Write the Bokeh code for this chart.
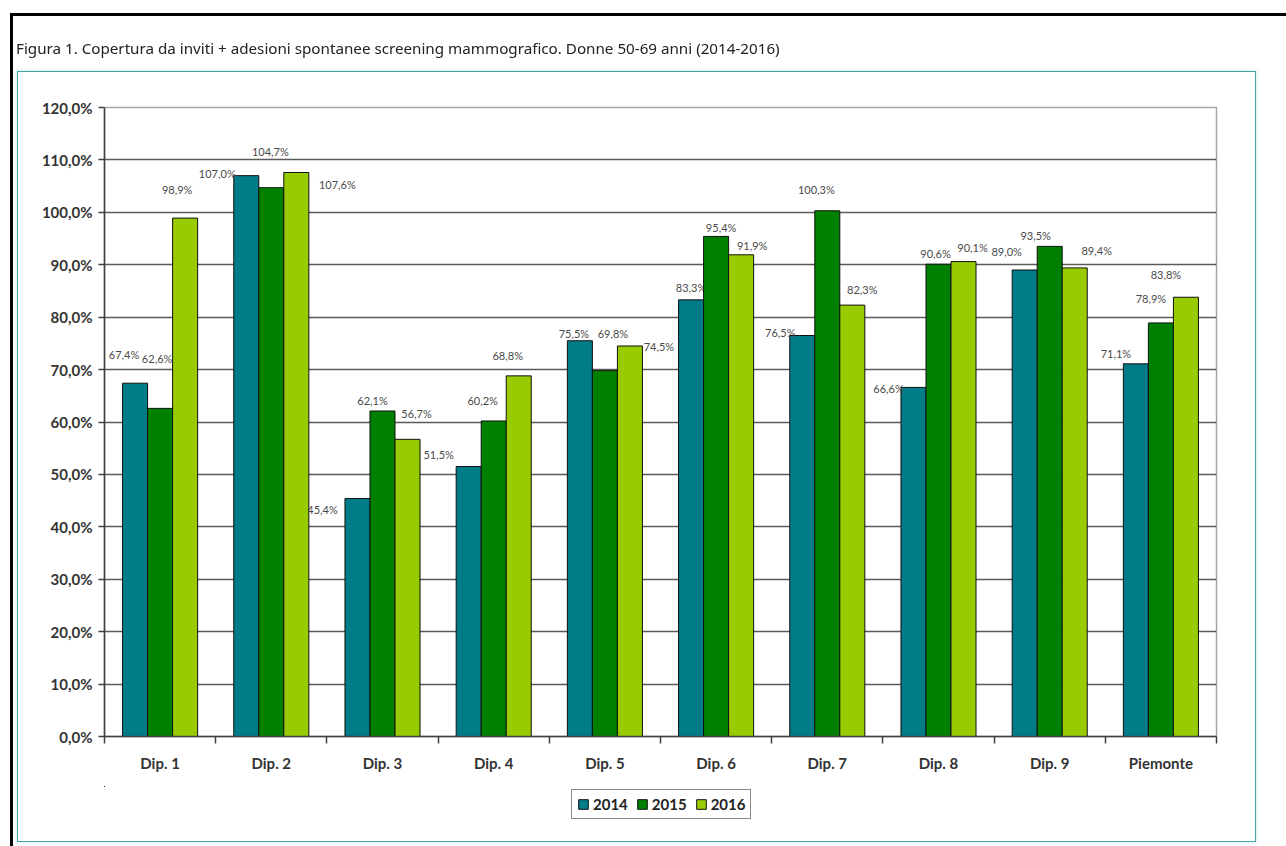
from bokeh.plotting import figure
from bokeh.models import (ColumnDataSource, Range1d, FixedTicker, Legend,
                          LegendItem, Div)
from bokeh.layouts import column
from bokeh.core.properties import value
from bokeh.embed import file_html
from bokeh.resources import INLINE

# ---------------- data ----------------
categories = ["Dip. 1", "Dip. 2", "Dip. 3", "Dip. 4", "Dip. 5",
              "Dip. 6", "Dip. 7", "Dip. 8", "Dip. 9", "Piemonte"]
years = ["2014", "2015", "2016"]
v2014 = [67.4, 107.0, 45.4, 51.5, 75.5, 83.3, 76.5, 66.6, 89.0, 71.1]
v2015 = [62.6, 104.7, 62.1, 60.2, 69.8, 95.4, 100.3, 90.1, 93.5, 78.9]
v2016 = [98.9, 107.6, 56.7, 68.8, 74.5, 91.9, 82.3, 90.6, 89.4, 83.8]
y_ticks = [0, 10, 20, 30, 40, 50, 60, 70, 80, 90, 100, 110, 120]
y_tick_labels = ["0,0%", "10,0%", "20,0%", "30,0%", "40,0%", "50,0%", "60,0%",
                 "70,0%", "80,0%", "90,0%", "100,0%", "110,0%", "120,0%"]
title_text = ("Figura 1. Copertura da inviti + adesioni spontanee screening "
              "mammografico. Donne 50-69 anni (2014-2016)")

# label placement (screen px, relative to bar top centre; dy positive = down)
lab_dx = {
    "2014": [-11, -29, -35, -30, -6, 0, -22, -25, -18, -20],
    "2015": [-3, -1, -10, -11, 8, 5, -11, 34, -14, -10],
    "2016": [-8, 41, 9, -11, 29, 11, 10, -28, 22, -20],
}
lab_dy = {
    "2014": [-29, -2, 11, -12, -7, -12, -3, 1, -18, -10],
    "2015": [-50, -36, -10, -20, -37, -9, -21, -17, -11, -24],
    "2016": [-29, 12, -26, -20, 1, -9, -16, -8, -17, -23],
}

colors = {"2014": "#007C89", "2015": "#008000", "2016": "#99CC00"}
series = {"2014": v2014, "2015": v2015, "2016": v2016}
bar_w = 0.225
shifts = {"2014": -bar_w, "2015": 0.0, "2016": bar_w}

p = figure(frame_width=1112, frame_height=629,
           output_backend="svg", toolbar_location=None,
           x_range=Range1d(0, len(categories)), y_range=Range1d(0, 120),
           min_border_left=104, min_border_right=70,
           min_border_top=107, min_border_bottom=50)
p.background_fill_color = "white"
p.border_fill_color = "white"
p.outline_line_color = "#a6a6a6"
p.outline_line_width = 1.5

# legend strip (separate small figure beneath the chart, frame aligned);
# its ranges keep the key renderers entirely outside its visible area
lf = figure(width=1286, height=60, output_backend="svg", toolbar_location=None,
            x_axis_location=None, y_axis_location=None, min_border=0,
            x_range=Range1d(1000, 1010), y_range=Range1d(-2000, -1000))
lf.outline_line_color = None
lf.grid.visible = False
lf.border_fill_color = "white"
lf.background_fill_color = "white"

centers = [i + 0.5 for i in range(len(categories))]
items = []
for yr in years:
    vals = series[yr]
    src = ColumnDataSource(dict(
        x=[c + shifts[yr] for c in centers],
        top=vals,
        lab=[f"{v:.1f}".replace(".", ",") + "%" for v in vals],
        dx=lab_dx[yr],
        dy=lab_dy[yr],
    ))
    p.vbar(x="x", top="top", bottom=0, width=bar_w, source=src,
           fill_color=colors[yr], line_color="#101010", line_width=1)
    p.text(x="x", y="top", text="lab", x_offset="dx", y_offset="dy", source=src,
           text_align="center", text_baseline="middle",
           text_font=value("Lato"), text_font_size="11px", text_color="#4a4a4a")
    lr = lf.vbar(x="x", top="top", bottom=0, width=bar_w, source=src,
                 fill_color=colors[yr], line_color="#101010", line_width=1)
    items.append(LegendItem(label=yr, renderers=[lr]))

# y axis
p.yaxis.ticker = FixedTicker(ticks=y_ticks)
p.yaxis.major_label_overrides = {t: l for t, l in zip(y_ticks, y_tick_labels)}
p.yaxis.major_label_text_font = "Lato"
p.yaxis.major_label_text_font_style = "bold"
p.yaxis.major_label_text_font_size = "15px"
p.yaxis.major_label_text_color = "#333333"
p.yaxis.axis_line_color = "#404040"
p.yaxis.axis_line_width = 1.5
p.yaxis.major_tick_line_color = "#404040"
p.yaxis.major_tick_line_width = 1.5
p.yaxis.major_tick_out = 6
p.yaxis.major_tick_in = 0
p.yaxis.minor_tick_line_color = None
p.yaxis.major_label_standoff = 6

# x axis: labels at centres, tick marks at boundaries
p.xaxis.ticker = FixedTicker(ticks=centers,
                             minor_ticks=list(range(len(categories) + 1)))
p.xaxis.major_label_overrides = {c: n for c, n in zip(centers, categories)}
p.xaxis.major_label_text_font = "Lato"
p.xaxis.major_label_text_font_style = "bold"
p.xaxis.major_label_text_font_size = "15px"
p.xaxis.major_label_text_color = "#333333"
p.xaxis.major_tick_line_color = None
p.xaxis.minor_tick_line_color = "#404040"
p.xaxis.minor_tick_line_width = 1.5
p.xaxis.minor_tick_out = 7
p.xaxis.minor_tick_in = 0
p.xaxis.axis_line_color = "#404040"
p.xaxis.axis_line_width = 1.5
p.xaxis.major_label_standoff = 10

p.xgrid.grid_line_color = None
p.ygrid.grid_line_color = "#5a5a5a"
p.ygrid.grid_line_width = 1.5

legend = Legend(items=items, orientation="horizontal", location=(467, 27),
                label_text_font="Lato", label_text_font_style="bold",
                label_text_font_size="15px", label_text_color="#222222",
                glyph_width=12, glyph_height=12, label_standoff=4, spacing=8,
                padding=5, margin=0, border_line_color="#111111",
                border_line_width=1.5, background_fill_alpha=1)
lf.add_layout(legend, "center")

# title and frames drawn as a fixed overlay
frames = Div(width=1, height=1, text=(
    '<div style="position:fixed;left:10px;top:13px;width:1400px;height:900px;'
    'border-top:3px solid black;border-left:3px solid black;'
    'pointer-events:none;"></div>'
    '<div style="position:fixed;left:17px;top:71px;width:1239px;height:771px;'
    'border:1.5px solid #45a5a0;box-shadow:0 0 3px 1px #d6f0f5;'
    'pointer-events:none;"></div>'
    '<div style="position:fixed;left:16px;top:37px;white-space:nowrap;'
    'font-family:\'Noto Sans\';font-size:15.2px;color:#222222;'
    'line-height:22px;">' + title_text + '</div>'))

root = column(p, lf, frames, spacing=0)
open("out.html", "w").write(file_html(root, INLINE))
